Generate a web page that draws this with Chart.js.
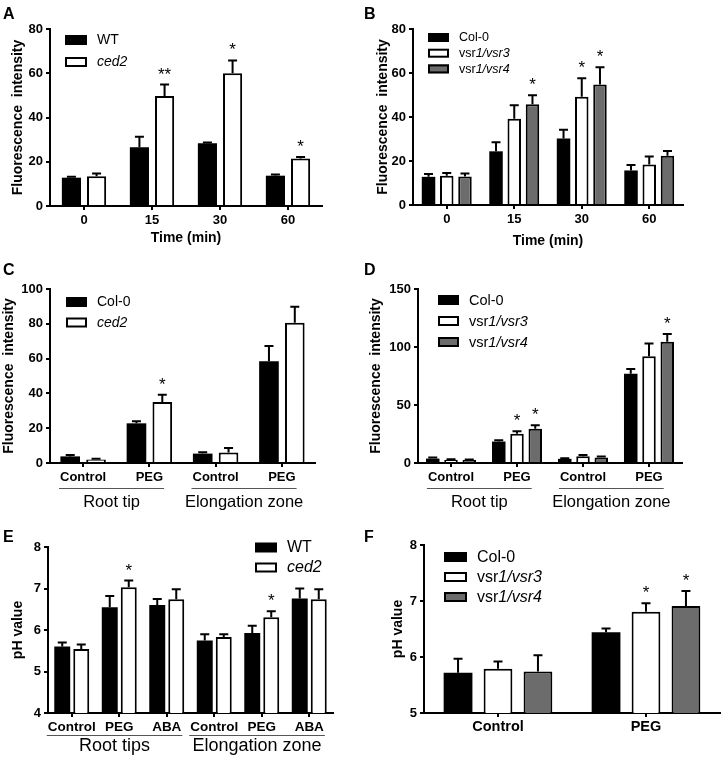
<!DOCTYPE html>
<html>
<head>
<meta charset="utf-8">
<script src="https://cdn.jsdelivr.net/npm/chart.js@4"></script>
<style>
body{margin:0;background:#fff;width:722px;height:757px;position:relative;overflow:hidden}
canvas{position:absolute}
</style>
</head>
<body>
<canvas id="cA" width="361" height="250" style="left:0;top:0"></canvas>
<canvas id="cB" width="361" height="250" style="left:361px;top:0"></canvas>
<canvas id="cC" width="361" height="262" style="left:0;top:255px"></canvas>
<canvas id="cD" width="361" height="262" style="left:361px;top:255px"></canvas>
<canvas id="cE" width="361" height="232" style="left:0;top:525px"></canvas>
<canvas id="cF" width="361" height="232" style="left:361px;top:525px"></canvas>
<script>
var FONT = '"Liberation Sans", Arial, sans-serif';

// ---- data ----
var timeLabels = ['0', '15', '30', '60'];
var aWT = [12.8, 26.5, 28.4, 13.7];
var aWTErr = [0.4, 4.8, 0.3, 0.5];
var aCed2 = [13.4, 49.7, 60.0, 21.5];
var aCed2Err = [1.3, 5.2, 5.8, 0.7];
var aStars = ['', '**', '*', '*'];

var bCol = [12.8, 24.4, 30.2, 15.7];
var bColErr = [1.3, 4.1, 4.0, 2.5];
var bV3 = [13.3, 39.2, 49.2, 18.4];
var bV3Err = [1.3, 6.1, 8.4, 3.6];
var bV4 = [13.0, 45.8, 54.8, 22.4];
var bV4Err = [1.3, 4.1, 7.8, 2.1];
var bV3Stars = ['', '', '*', ''];
var bV4Stars = ['', '*', '*', ''];

var treatLabels = ['Control', 'PEG', 'Control', 'PEG'];
var zoneGroups = ['Root tip', 'Elongation zone'];
var cCol = [3.8, 22.8, 5.4, 58.5];
var cColErr = [0.8, 1.2, 0.8, 8.7];
var cCed2 = [2.0, 35.0, 6.0, 80.6];
var cCed2Err = [0.4, 4.2, 2.6, 9.2];
var cStars = ['', '*', '', ''];

var dCol = [3.8, 18.5, 3.6, 77.0];
var dColErr = [0.9, 1.2, 0.6, 4.0];
var dV3 = [2.8, 25.3, 5.8, 92.0];
var dV3Err = [0.5, 2.0, 1.0, 11.0];
var dV4 = [2.5, 29.5, 4.8, 104.6];
var dV4Err = [0.5, 3.0, 0.9, 6.5];
var dV3Stars = ['', '*', '', ''];
var dV4Stars = ['', '*', '', '*'];

var phLabels = ['Control', 'PEG', 'ABA', 'Control', 'PEG', 'ABA'];
var phGroups = ['Root tips', 'Elongation zone'];
var eWT = [5.6, 6.55, 6.6, 5.75, 5.93, 6.76];
var eWTErr = [0.1, 0.27, 0.15, 0.15, 0.17, 0.24];
var eCed2 = [5.54, 7.03, 6.74, 5.83, 6.31, 6.74];
var eCed2Err = [0.11, 0.16, 0.24, 0.07, 0.14, 0.24];
var eStars = ['', '*', '', '', '*', ''];

var fLabels = ['Control', 'PEG'];
var fCol = [5.72, 6.44];
var fColErr = [0.25, 0.07];
var fV3 = [5.79, 6.81];
var fV3Err = [0.13, 0.15];
var fV4 = [5.74, 6.91];
var fV4Err = [0.29, 0.27];
var fV3Stars = ['', '*'];
var fV4Stars = ['', '*'];

// series names, <i> marks italic part
var nameWT = 'WT', nameCed2 = '<i>ced2</i>', nameCol = 'Col-0';
var nameV3 = 'vsr<i>1/vsr3</i>', nameV4 = 'vsr<i>1/vsr4</i>';

var BLACK = '#000', WHITE = '#fff', GREY = '#6c6c6c';

function ds(label, data, err, stars, color){
    return {label: label, data: data, err: err, stars: stars || [],
        backgroundColor: color, borderColor: '#000',
        borderWidth: color == BLACK ? 0 : 2, borderSkipped: 'start'};
}

// draws "plain <i>italic</i>" text, left aligned
function richText(ctx, txt, x, y, size, weight){
    var parts = txt.split(/(<i>.*?<\/i>)/);
    parts.forEach(function(p){
        if(!p) return;
        var it = p.indexOf('<i>') == 0;
        var s = it ? p.slice(3, -4) : p;
        ctx.font = (it ? 'italic ' : '') + (weight || 'normal') + ' ' + size + 'px ' + FONT;
        ctx.fillText(s, x, y);
        x += ctx.measureText(s).width;
    });
}

var extras = {
    id: 'extras',
    afterDatasetsDraw: function(chart){
        var ctx = chart.ctx, ys = chart.scales.y;
        ctx.save();
        chart.data.datasets.forEach(function(d, i){
            var meta = chart.getDatasetMeta(i);
            meta.data.forEach(function(el, j){
                var top = ys.getPixelForValue(d.data[j] + d.err[j]);
                ctx.strokeStyle = '#000';
                ctx.lineWidth = 2;
                ctx.beginPath();
                ctx.moveTo(el.x, el.y);
                ctx.lineTo(el.x, top);
                ctx.moveTo(el.x - 4.5, top);
                ctx.lineTo(el.x + 4.5, top);
                ctx.stroke();
                if(d.stars[j]){
                    ctx.fillStyle = '#000';
                    ctx.font = '17px ' + FONT;
                    ctx.textAlign = 'center';
                    ctx.textBaseline = 'alphabetic';
                    ctx.fillText(d.stars[j], el.x, top - 5);
                }
            });
        });
        ctx.restore();
    },
    afterDraw: function(chart){
        var o = chart.options.plugins.extras, ctx = chart.ctx, a = chart.chartArea;
        ctx.save();
        ctx.fillStyle = '#000';
        ctx.textBaseline = 'alphabetic';
        ctx.textAlign = 'left';
        ctx.font = 'bold 16px ' + FONT;
        ctx.fillText(o.letter, 3, o.letterY);

        // y title
        ctx.save();
        ctx.translate(o.yTitleX, (a.top + a.bottom) / 2);
        ctx.rotate(-Math.PI / 2);
        ctx.textAlign = 'center';
        ctx.textBaseline = 'middle';
        ctx.font = 'bold 14px ' + FONT;
        ctx.fillText(o.yTitle, 0, 0);
        ctx.restore();

        if(o.xTitle){
            ctx.textAlign = 'center';
            ctx.textBaseline = 'middle';
            ctx.font = 'bold 14px ' + FONT;
            ctx.fillText(o.xTitle, (a.left + a.right) / 2, o.xTitleY);
        }

        // group labels under categories
        if(o.groups){
            var xs = chart.scales.x, n = chart.data.labels.length / o.groups.length;
            ctx.font = 'bold ' + o.tickSize + 'px ' + FONT;
            o.groups.forEach(function(g, k){
                var i0 = k * n, i1 = i0 + n - 1;
                var l = xs.getPixelForValue(i0) - ctx.measureText(chart.data.labels[i0]).width / 2 - 1;
                var r = xs.getPixelForValue(i1) + ctx.measureText(chart.data.labels[i1]).width / 2 + 1;
                ctx.strokeStyle = '#555';
                ctx.lineWidth = 1;
                ctx.beginPath();
                ctx.moveTo(l, o.lineY + 0.5);
                ctx.lineTo(r, o.lineY + 0.5);
                ctx.stroke();
                ctx.save();
                ctx.font = o.groupSize + 'px ' + FONT;
                ctx.textAlign = 'center';
                ctx.textBaseline = 'middle';
                ctx.fillText(g, (l + r) / 2, o.groupY);
                ctx.restore();
            });
        }

        // legend
        var L = o.legend;
        chart.data.datasets.forEach(function(d, i){
            var y = L.y + i * L.dy;
            ctx.fillStyle = d.backgroundColor;
            ctx.fillRect(L.x, y - L.bh / 2, L.bw, L.bh);
            if(d.borderWidth){
                ctx.strokeStyle = '#000';
                ctx.lineWidth = 2;
                ctx.strokeRect(L.x + 1, y - L.bh / 2 + 1, L.bw - 2, L.bh - 2);
            }
            ctx.fillStyle = '#000';
            ctx.textAlign = 'left';
            ctx.textBaseline = 'middle';
            richText(ctx, d.label, L.x + L.bw + 10, y + 0.5, L.size);
        });
        ctx.restore();
    }
};

function makePanel(id, p){
    var cv = document.getElementById(id);
    var W = cv.width, H = cv.height;
    return new Chart(cv, {
        type: 'bar',
        data: {labels: p.labels, datasets: p.datasets},
        plugins: [extras],
        options: {
            responsive: false,
            animation: false,
            devicePixelRatio: 1,
            categoryPercentage: p.catPct,
            barPercentage: p.barPct,
            layout: {padding: {left: 0, top: p.area.t, right: W - p.area.r, bottom: 0}},
            plugins: {
                legend: {display: false},
                tooltip: {enabled: false},
                extras: p.extras
            },
            scales: {
                x: {
                    offset: true,
                    grid: {display: true, drawOnChartArea: false, offset: false, tickLength: 4, color: '#000', lineWidth: 2},
                    border: {color: '#000', width: 2},
                    ticks: {color: '#000', padding: p.xPad, maxRotation: 0, autoSkip: false,
                        font: {family: FONT, size: p.extras.tickSize, weight: 'bold'}},
                    afterFit: function(s){ s.height = H - p.area.b; }
                },
                y: {
                    min: p.min, max: p.max,
                    grid: {drawOnChartArea: false, tickLength: 4, color: '#000', lineWidth: 2},
                    border: {color: '#000', width: 2},
                    ticks: {stepSize: p.step, color: '#000', padding: 3,
                        font: {family: FONT, size: 13, weight: 'bold'}},
                    afterFit: function(s){ s.width = p.area.l; }
                }
            }
        }
    });
}

makePanel('cA', {
    labels: timeLabels, min: 0, max: 80, step: 20,
    area: {l: 50, t: 29, r: 322, b: 206}, xPad: 3, catPct: 0.74, barPct: 0.76,
    datasets: [ds(nameWT, aWT, aWTErr, [], BLACK), ds(nameCed2, aCed2, aCed2Err, aStars, WHITE)],
    extras: {letter: 'A', letterY: 19, yTitle: 'Fluorescence  intensity', yTitleX: 18,
        xTitle: 'Time (min)', xTitleY: 238, tickSize: 13,
        legend: {x: 65, y: 40, dy: 22, bw: 22, bh: 10, size: 14}}
});

makePanel('cB', {
    labels: timeLabels, min: 0, max: 80, step: 20,
    area: {l: 52, t: 29, r: 322, b: 205}, xPad: 3, catPct: 0.81, barPct: 0.74,
    datasets: [ds(nameCol, bCol, bColErr, [], BLACK), ds(nameV3, bV3, bV3Err, bV3Stars, WHITE),
        ds(nameV4, bV4, bV4Err, bV4Stars, GREY)],
    extras: {letter: 'B', letterY: 19, yTitle: 'Fluorescence  intensity', yTitleX: 22,
        xTitle: 'Time (min)', xTitleY: 241, tickSize: 13,
        legend: {x: 67, y: 37.5, dy: 15.7, bw: 21, bh: 9, size: 12.5}}
});

makePanel('cC', {
    labels: treatLabels, min: 0, max: 100, step: 20,
    area: {l: 50, t: 34, r: 315, b: 208}, xPad: 3, catPct: 0.78, barPct: 0.76,
    datasets: [ds(nameCol, cCol, cColErr, [], BLACK), ds(nameCed2, cCed2, cCed2Err, cStars, WHITE)],
    extras: {letter: 'C', letterY: 20, yTitle: 'Fluorescence  intensity', yTitleX: 9,
        tickSize: 13, groups: zoneGroups, lineY: 233, groupY: 247, groupSize: 16.5,
        legend: {x: 66, y: 47, dy: 20.5, bw: 21, bh: 10, size: 14}}
});

makePanel('cD', {
    labels: treatLabels, min: 0, max: 150, step: 50,
    area: {l: 57, t: 34, r: 321, b: 208}, xPad: 3, catPct: 0.83, barPct: 0.74,
    datasets: [ds(nameCol, dCol, dColErr, [], BLACK), ds(nameV3, dV3, dV3Err, dV3Stars, WHITE),
        ds(nameV4, dV4, dV4Err, dV4Stars, GREY)],
    extras: {letter: 'D', letterY: 20, yTitle: 'Fluorescence  intensity', yTitleX: 15,
        tickSize: 13, groups: zoneGroups, lineY: 233, groupY: 247, groupSize: 16.5,
        legend: {x: 77, y: 45, dy: 21, bw: 21, bh: 10, size: 14.5}}
});

makePanel('cE', {
    labels: phLabels, min: 4, max: 8, step: 1,
    area: {l: 48, t: 22, r: 333, b: 188}, xPad: 2, catPct: 0.8, barPct: 0.84,
    datasets: [ds(nameWT, eWT, eWTErr, [], BLACK), ds(nameCed2, eCed2, eCed2Err, eStars, WHITE)],
    extras: {letter: 'E', letterY: 17, yTitle: 'pH value', yTitleX: 18,
        tickSize: 13.5, groups: phGroups, lineY: 210, groupY: 221, groupSize: 18,
        legend: {x: 255, y: 22.5, dy: 20, bw: 22, bh: 10, size: 16}}
});

makePanel('cF', {
    labels: fLabels, min: 5, max: 8, step: 1,
    area: {l: 63, t: 20, r: 359, b: 188}, xPad: 1, catPct: 0.81, barPct: 0.72,
    datasets: [ds(nameCol, fCol, fColErr, [], BLACK), ds(nameV3, fV3, fV3Err, fV3Stars, WHITE),
        ds(nameV4, fV4, fV4Err, fV4Stars, GREY)],
    extras: {letter: 'F', letterY: 17, yTitle: 'pH value', yTitleX: 37,
        tickSize: 14.5,
        legend: {x: 83, y: 32, dy: 20, bw: 23, bh: 10, size: 16}}
});
</script>
</body>
</html>
